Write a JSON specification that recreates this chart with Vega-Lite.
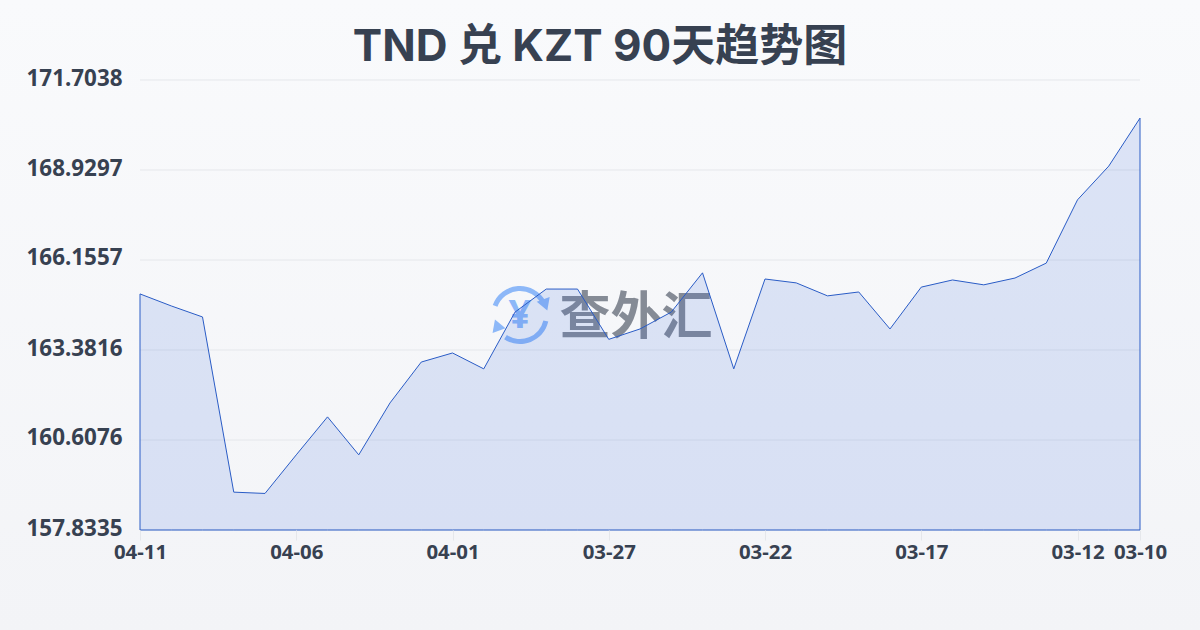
{
"$schema":"https://vega.github.io/schema/vega-lite/v6.json",
"width":1000,"height":450,
"autosize":{"type":"none"},
"padding":{"left":140,"top":80,"right":60,"bottom":100},
"background":"#f6f7f9",
"title":{"text":"TND 兑 KZT 90天趋势图","font":"Inter, Noto Sans CJK SC","fontSize":44,"fontWeight":"bold","color":"#374151","anchor":"middle","offset":-70,"dx":-40,"zindex":1},
"config":{"view":{"stroke":null}},
"datasets":{
"rates":[
{"date":"04-11","rate":165.11},{"date":"04-10","rate":164.74},{"date":"04-09","rate":164.40},{"date":"04-08","rate":159.00},{"date":"04-07","rate":158.96},{"date":"04-06","rate":160.15},{"date":"04-05","rate":161.32},{"date":"04-04","rate":160.15},{"date":"04-03","rate":161.75},{"date":"04-02","rate":163.01},{"date":"04-01","rate":163.29},{"date":"03-31","rate":162.80},{"date":"03-30","rate":164.55},{"date":"03-29","rate":165.26},{"date":"03-28","rate":165.26},{"date":"03-27","rate":163.71},{"date":"03-26","rate":164.03},{"date":"03-25","rate":164.55},{"date":"03-24","rate":165.76},{"date":"03-23","rate":162.80},{"date":"03-22","rate":165.57},{"date":"03-21","rate":165.45},{"date":"03-20","rate":165.05},{"date":"03-19","rate":165.17},{"date":"03-18","rate":164.03},{"date":"03-17","rate":165.32},{"date":"03-16","rate":165.54},{"date":"03-15","rate":165.39},{"date":"03-14","rate":165.60},{"date":"03-13","rate":166.06},{"date":"03-12","rate":168.01},{"date":"03-11","rate":169.05},{"date":"03-10","rate":170.53}
],
"ticks":[{"tick":157.8335},{"tick":160.6076},{"tick":163.3816},{"tick":166.1557},{"tick":168.9297},{"tick":171.7038}]
},
"layer":[
{"data":{"values":[{"a":0}]},
 "mark":{"type":"rect","x":-140,"y":-80,"x2":1060,"y2":550,"clip":false,"fill":{"gradient":"linear","x1":0,"y1":0,"x2":0,"y2":1,"stops":[{"offset":0,"color":"#f9fafc"},{"offset":1,"color":"#f3f4f7"}]}},
 "encoding":{}},
{"data":{"name":"ticks"},
 "mark":{"type":"rule","color":"#e5e7eb","strokeWidth":1},
 "encoding":{"y":{"field":"tick","type":"quantitative"}}},
{"data":{"name":"rates"},
 "mark":{"type":"line","opacity":0},
 "encoding":{
  "x":{"field":"date","type":"ordinal","sort":null,"scale":{"type":"point","padding":0},
   "axis":{"zindex":1,"values":["04-11","04-06","04-01","03-27","03-22","03-17","03-12","03-10"],"title":null,"labelAngle":0,"labelOverlap":false,"labelFont":"Noto Sans","labelFontSize":20.4,"labelFontWeight":"bold","labelColor":"#374151","labelPadding":2,"tickColor":"#e5e7eb","tickSize":10,"domain":false,"grid":false}},
  "y":{"field":"rate","type":"quantitative","scale":{"domain":[157.8335,171.7038],"nice":false,"zero":false},
   "axis":{"zindex":1,"values":[157.8335,160.6076,163.3816,166.1557,168.9297,171.7038],"format":".4f","title":null,"labelFont":"Noto Sans","labelFontSize":22.4,"labelFontWeight":"bold","labelColor":"#374151","labelPadding":18,"labelOffset":-2,"ticks":false,"domain":false,"grid":false}}
 }},
{"data":{"values":[{"date":"03-26","rate":164.46,"label":"查外汇"}]},
 "mark":{"type":"text","font":"Noto Sans CJK SC","fontWeight":"bold","fontSize":51,"color":"#5b6270","opacity":0.72,"dx":-4,"dy":4},
 "encoding":{"x":{"field":"date","type":"ordinal","sort":null},"y":{"field":"rate","type":"quantitative"},"text":{"field":"label"}}},
{"data":{"values":[{"date":"03-30","rate":164.46,"start":-1.22,"end":1.08}]},
 "mark":{"type":"arc","radius":29,"radius2":24,"color":"#8db8f8","xOffset":5},
 "encoding":{"x":{"field":"date","type":"ordinal","sort":null},"y":{"field":"rate","type":"quantitative"},"theta":{"field":"start","type":"quantitative","scale":null,"stack":null},"theta2":{"field":"end"}}},
{"data":{"values":[{"date":"03-30","rate":164.46,"start":1.8,"end":3.72}]},
 "mark":{"type":"arc","radius":29,"radius2":24,"color":"#8db8f8","xOffset":5},
 "encoding":{"x":{"field":"date","type":"ordinal","sort":null},"y":{"field":"rate","type":"quantitative"},"theta":{"field":"start","type":"quantitative","scale":null,"stack":null},"theta2":{"field":"end"}}},
{"data":{"values":[{"date":"03-30","rate":164.46,"label":"¥"}]},
 "mark":{"type":"text","font":"Noto Sans","fontWeight":"bold","fontSize":40,"color":"#8db8f8","dx":5,"dy":1},
 "encoding":{"x":{"field":"date","type":"ordinal","sort":null},"y":{"field":"rate","type":"quantitative"},"text":{"field":"label"}}},
{"data":{"values":[{"date":"03-29","rate":164.77,"turn":160}]},
 "mark":{"type":"point","shape":"triangle-up","filled":true,"size":190,"color":"#8db8f8","opacity":1,"xOffset":-1},
 "encoding":{"x":{"field":"date","type":"ordinal","sort":null},"y":{"field":"rate","type":"quantitative"},"angle":{"field":"turn","type":"quantitative","scale":null}}},
{"data":{"values":[{"date":"03-30","rate":164.15,"turn":340}]},
 "mark":{"type":"point","shape":"triangle-up","filled":true,"size":190,"color":"#8db8f8","opacity":1,"xOffset":-18},
 "encoding":{"x":{"field":"date","type":"ordinal","sort":null},"y":{"field":"rate","type":"quantitative"},"angle":{"field":"turn","type":"quantitative","scale":null}}},
{"data":{"name":"rates"},
 "mark":{"type":"area","color":"#2f62dc","fillOpacity":0.14,"stroke":"#2a5cc6","strokeWidth":1},
 "encoding":{"x":{"field":"date","type":"ordinal","sort":null},"y":{"field":"rate","type":"quantitative"},"y2":{"datum":157.8335}}}
]
}
